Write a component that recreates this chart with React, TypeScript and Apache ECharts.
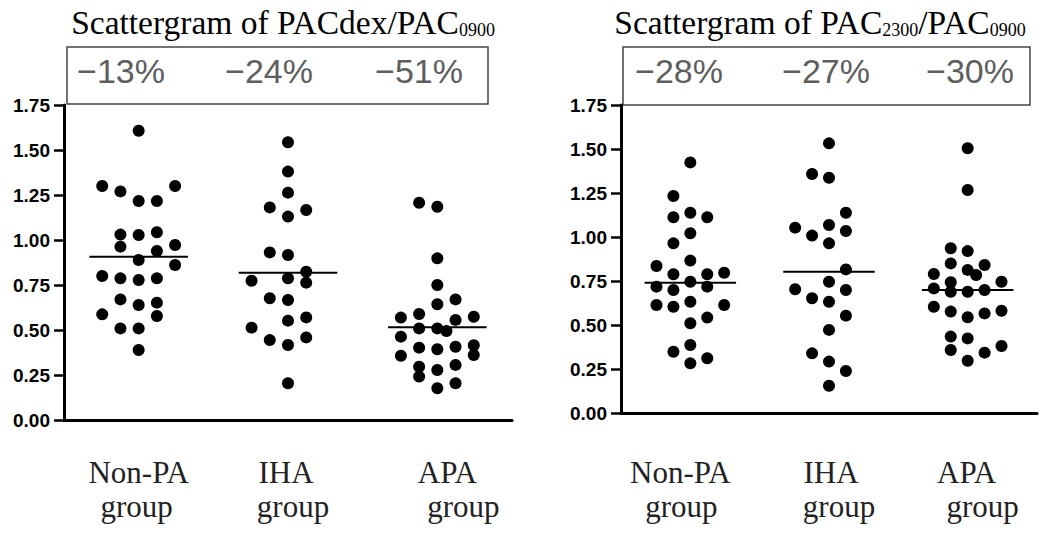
import React, { useEffect, useRef } from "react";
import * as echarts from "echarts";

// ---------- data ----------
const categories = ["Non-PA", "IHA", "APA"];
const categorySecondLine = "group";

const leftTitleMain = "Scattergram of PACdex/PAC";
const leftTitleSub = "0900";
const rightTitleParts = ["Scattergram of PAC", "2300", "/PAC", "0900"];

const leftChanges = ["\u221213%", "\u221224%", "\u221251%"];
const rightChanges = ["\u221228%", "\u221227%", "\u221230%"];

const yMin = 0;
const yMax = 1.75;
const yStep = 0.25;

// Left panel: PACdex / PAC0900 (values + beeswarm column index)
const leftNonPA = [1.607, 1.3, 1.27, 1.217, 1.217, 1.3, 1.03, 0.963, 1.028, 1.043, 0.939, 0.889, 0.972, 0.861, 0.8, 0.787, 0.778, 0.787, 0.67, 0.639, 0.652, 0.578, 0.587, 0.509, 0.509, 0.389];
const leftNonPACol = [0, -2, -1, 0, 1, 2, -1, -1, 0, 1, 1, 0, 2, 2, -2, -1, 0, 1, -1, 0, 1, 1, -2, -1, 0, 0];
const leftIHA = [1.543, 1.38, 1.263, 1.181, 1.13, 1.167, 0.931, 0.917, 0.774, 0.787, 0.824, 0.763, 0.676, 0.667, 0.552, 0.57, 0.513, 0.444, 0.417, 0.459, 0.204];
const leftIHACol = [0, 0, 0, -1, 0, 1, -1, 0, -2, 0, 1, 1, -1, 0, 0, 1, -2, -1, 0, 1, 0];
const leftAPA = [1.207, 1.185, 0.898, 0.75, 0.643, 0.67, 0.569, 0.589, 0.574, 0.556, 0.509, 0.509, 0.494, 0.463, 0.402, 0.393, 0.407, 0.415, 0.361, 0.357, 0.296, 0.241, 0.278, 0.306, 0.204, 0.176];
const leftAPACol = [-1, 0, 0, 0, 0, 1, -2, -1, 2, 1, -1, 0, 0.5, -2, -1, 0, 1, 2, 2, -2, -1, -1, 0, 1, 1, 0];
const leftMedians = [0.907, 0.818, 0.515];

// Right panel: PAC2300 / PAC0900
const rightNonPA = [1.424, 1.233, 1.112, 1.138, 1.112, 1.021, 0.964, 0.835, 0.866, 0.788, 0.788, 0.797, 0.718, 0.699, 0.746, 0.718, 0.614, 0.604, 0.632, 0.542, 0.614, 0.51, 0.348, 0.386, 0.282, 0.311];
const rightNonPACol = [0, -1, -1, 0, 1, 0, -1, -2, 0, -1, 1, 2, -2, -1, 0, 1, -2, -1, 0, 1, 2, 0, -1, 0, 0, 1];
const rightIHA = [1.532, 1.358, 1.337, 1.138, 1.053, 1.068, 1.034, 1.008, 0.964, 0.816, 0.746, 0.703, 0.699, 0.652, 0.632, 0.553, 0.472, 0.339, 0.292, 0.239, 0.155];
const rightIHACol = [0, -1, 0, 1, -2, 0, 1, -1, 0, 1, 0, -2, 1, -1, 0, 1, 0, -1, 0, 1, 0];
const rightAPA = [1.504, 1.267, 0.936, 0.92, 0.85, 0.813, 0.784, 0.841, 0.79, 0.743, 0.746, 0.708, 0.689, 0.689, 0.699, 0.604, 0.576, 0.544, 0.566, 0.581, 0.434, 0.424, 0.358, 0.343, 0.381, 0.297];
const rightAPACol = [0, 0, -1, 0, -1, 0, 0.5, 1, -2, -1, 2, -2, -1, 0, 1, -2, -1, 0, 1, 2, -1, 0, -1, 1, 2, 0];
const rightMedians = [0.74, 0.803, 0.699];

// ---------- layout / style constants ----------
const COL_W = 0.122; // beeswarm column width in axis units
const MEDIAN_HALF = 0.33;
const SERIF = "'Liberation Serif', 'Times New Roman', serif";
const SANS = "'Liberation Sans', Arial, sans-serif";

function buildPoints(vals: number[], cols: number[], groupPos: number) {
  return vals.map((v, i) => [groupPos + cols[i] * COL_W, v]);
}

function makeXAxis(gridIndex: number, margin: number, shift1: number[], shift2: number[]) {
  const rich: Record<string, any> = {};
  const pad = (s: number) => (s >= 0 ? [0, 0, 0, 2 * s] : [0, -2 * s, 0, 0]);
  for (let i = 0; i < categories.length; i++) {
    rich["a" + i] = { fontFamily: SERIF, fontSize: 31, lineHeight: 34, color: "#222", align: "center", padding: pad(shift1[i]) };
    rich["b" + i] = { fontFamily: SERIF, fontSize: 31, lineHeight: 34, color: "#222", align: "center", padding: pad(shift2[i]) };
  }
  return {
    type: "value",
    gridIndex,
    min: 0.5,
    max: 3.5,
    interval: 0.5,
    axisLine: { show: true, onZero: false, lineStyle: { color: "#000", width: 3 } },
    axisTick: { show: false },
    splitLine: { show: false },
    axisLabel: {
      margin,
      formatter: (v: number) => {
        const r = Math.round(v);
        if (Math.abs(v - r) > 1e-6 || r < 1 || r > categories.length) return "";
        const i = r - 1;
        return `{a${i}|${categories[i]}}\n{b${i}|${categorySecondLine}}`;
      },
      rich,
    },
  };
}

function makeYAxis(gridIndex: number) {
  return {
    type: "value",
    gridIndex,
    min: yMin,
    max: yMax,
    interval: yStep,
    axisLine: { show: true, lineStyle: { color: "#000", width: 3 } },
    axisTick: { show: true, length: 10, lineStyle: { color: "#000", width: 2.5 } },
    splitLine: { show: false },
    axisLabel: {
      margin: 14,
      formatter: (v: number) => v.toFixed(2),
      color: "#000",
      fontSize: 19,
      fontWeight: "bold",
      fontFamily: SANS,
    },
  };
}

function scatterSeries(idx: number, data: number[][]) {
  return {
    type: "scatter",
    xAxisIndex: idx,
    yAxisIndex: idx,
    symbol: "circle",
    symbolSize: 12,
    itemStyle: { color: "#000", opacity: 1 },
    data,
    z: 3,
  };
}

function medianSeries(idx: number, medians: number[]) {
  return medians.map((m, i) => ({
    type: "line",
    xAxisIndex: idx,
    yAxisIndex: idx,
    symbol: "none",
    lineStyle: { color: "#000", width: 2 },
    data: [
      [i + 1 - MEDIAN_HALF, m],
      [i + 1 + MEDIAN_HALF, m],
    ],
    z: 4,
  }));
}

const titleRich = {
  m: { fontFamily: SERIF, fontSize: 33.5, lineHeight: 36, verticalAlign: "bottom", color: "#111" },
  s: { fontFamily: SERIF, fontSize: 18, lineHeight: 20, verticalAlign: "bottom", color: "#111" },
};

function changeTexts(changes: string[], centers: number[]) {
  return changes.map((t, i) => ({
    type: "text",
    x: centers[i],
    y: 71,
    style: {
      text: t,
      fontFamily: SANS,
      fontSize: 34,
      fill: "#5e5e5e",
      align: "center",
      verticalAlign: "middle",
      textAlign: "center",
      textVerticalAlign: "middle",
    },
  }));
}

export default function App() {
  const ref = useRef<HTMLDivElement>(null);

  useEffect(() => {
    if (!ref.current) return;
    const chart = echarts.init(ref.current, undefined, { renderer: "svg" });

    const leftData = [
      ...buildPoints(leftNonPA, leftNonPACol, 1),
      ...buildPoints(leftIHA, leftIHACol, 2),
      ...buildPoints(leftAPA, leftAPACol, 3),
    ];
    const rightData = [
      ...buildPoints(rightNonPA, rightNonPACol, 1),
      ...buildPoints(rightIHA, rightIHACol, 2),
      ...buildPoints(rightAPA, rightAPACol, 3),
    ];

    const option: any = {
      animation: false,
      backgroundColor: "#fff",
      grid: [
        { left: 64, top: 105, width: 448, height: 315 },
        { left: 621, top: 105, width: 416, height: 308 },
      ],
      xAxis: [
        makeXAxis(0, 35, [0, -2, 10], [-2, 5, 26]),
        makeXAxis(1, 42, [-10, 2, -1], [-9, 10, 15]),
      ],
      yAxis: [makeYAxis(0), makeYAxis(1)],
      series: [
        scatterSeries(0, leftData),
        scatterSeries(1, rightData),
        ...medianSeries(0, leftMedians),
        ...medianSeries(1, rightMedians),
      ],
      graphic: [
        {
          type: "text",
          x: 283,
          y: 3,
          style: {
            text: `{m|${leftTitleMain}}{s|${leftTitleSub}}`,
            rich: titleRich,
            align: "center",
            verticalAlign: "top",
            textAlign: "center",
            textVerticalAlign: "top",
          },
        },
        {
          type: "text",
          x: 820,
          y: 3,
          style: {
            text: `{m|${rightTitleParts[0]}}{s|${rightTitleParts[1]}}{m|${rightTitleParts[2]}}{s|${rightTitleParts[3]}}`,
            rich: titleRich,
            align: "center",
            verticalAlign: "top",
            textAlign: "center",
            textVerticalAlign: "top",
          },
        },
        {
          type: "rect",
          shape: { x: 67, y: 47, width: 421, height: 57 },
          style: { fill: "none", stroke: "#444", lineWidth: 1.5 },
        },
        {
          type: "rect",
          shape: { x: 623, y: 47, width: 407, height: 58 },
          style: { fill: "none", stroke: "#444", lineWidth: 1.5 },
        },
        ...changeTexts(leftChanges, [121, 269, 419]),
        ...changeTexts(rightChanges, [679, 826, 970]),
      ],
    };

    chart.setOption(option);
    return () => chart.dispose();
  }, []);

  return (
    <div
      ref={ref}
      style={{ position: "fixed", left: 0, top: 0, width: 1046, height: 536, background: "#fff" }}
    />
  );
}
